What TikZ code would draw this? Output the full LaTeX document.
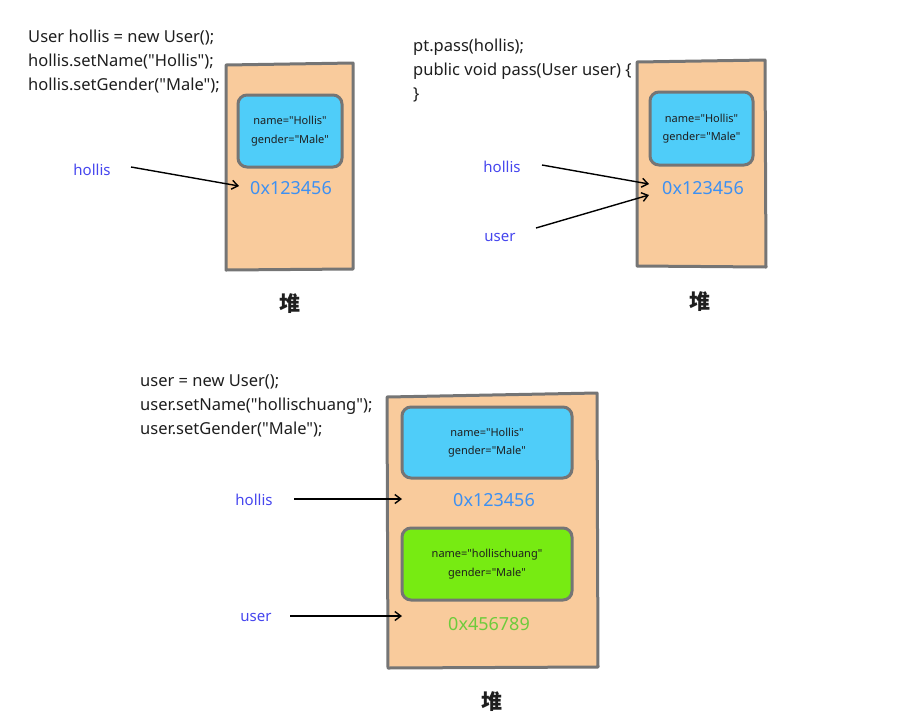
\documentclass[tikz,border=0pt]{standalone}
\usepackage{fontspec}
% TeX ligatures off so that " stays a straight double quote
\setmainfont{Noto Sans}[Ligatures=TeXOff]
\newfontfamily\cjk{Noto Sans CJK SC}
\usetikzlibrary{arrows.meta}

\definecolor{heapfill}{HTML}{F9CB9C}
\definecolor{edgegray}{HTML}{757575}
\definecolor{objblue}{HTML}{4FCDF9}
\definecolor{objgreen}{HTML}{77EB12}
\definecolor{addrblue}{HTML}{3D90F2}
\definecolor{addrgreen}{HTML}{6ECB3C}
\definecolor{varblue}{HTML}{4646EE}
\definecolor{ink}{HTML}{1E1E1E}

\begin{document}
\begin{tikzpicture}[x=1pt,y=-1pt,
  heap/.style={fill=heapfill, draw=edgegray, line width=3pt, line join=round},
  obj/.style={draw=edgegray, line width=3pt, rounded corners=9pt, inner sep=0pt,
    text=ink, align=center, font=\fontsize{11}{18.5}\selectfont},
  code/.style={anchor=base west, inner sep=0pt, text=ink, font=\fontsize{16.5}{18}\selectfont},
  addr/.style={inner sep=0pt, font=\fontsize{18}{20}\selectfont},
  var/.style={inner sep=0pt, text=varblue, font=\fontsize{15}{17}\selectfont},
  ref/.style={-{Straight Barb[length=6pt,width=9pt]}, line width=1.4pt, draw=black},
  heaplabel/.style={inner sep=0pt, text=ink, font=\cjk\bfseries\fontsize{21}{24}\selectfont}
]
\useasboundingbox (0,0) rectangle (914,724);

% ---------- first state: hollis created ----------
\node[code] (c1a) at (28,42) {User hollis = new User();};
\node[code] (c1b) at (28,66) {hollis.setName("Hollis");};
\node[code] (c1c) at (28,90) {hollis.setGender("Male");};

\draw[heap] (226,65) -- (353,63) -- (353,269) -- (226,270) -- cycle;
\node[obj, fill=objblue, minimum width=104pt, minimum height=72pt] (o1) at (290,131)
  {name="Hollis"\\gender="Male"};
\node[addr, text=addrblue] (a1) at (291,188) {0x123456};
\node[var] (v1) at (92,170) {hollis};
\coordinate (v1s) at (131,167);
\coordinate (a1h) at (239,186);
\draw[ref] (v1s) -- (a1h);
\node[heaplabel] (h1) at (290,304) {堆};

% ---------- second state: reference passed to pass() ----------
\node[code] (c2a) at (413,51) {pt.pass(hollis);};
\node[code] (c2b) at (413,75) {public void pass(User user) \{};
\node[code] (c2c) at (413,99) {\}};

\draw[heap] (637,62) -- (765,60) -- (766,267) -- (637,266) -- cycle;
\node[obj, fill=objblue, minimum width=103pt, minimum height=73pt] (o2) at (701.5,128.5)
  {name="Hollis"\\gender="Male"};
\node[addr, text=addrblue] (a2) at (703,188) {0x123456};
\node[var] (v2) at (502,167) {hollis};
\node[var] (v3) at (500,237) {user};
\coordinate (v2s) at (542,165);
\coordinate (a2h) at (649,184);
\coordinate (v3s) at (536,228);
\coordinate (a2u) at (649,195);
\draw[ref] (v2s) -- (a2h);
\draw[ref] (v3s) -- (a2u);
\node[heaplabel] (h2) at (700,302) {堆};

% ---------- third state: user reassigned ----------
\node[code] (c3a) at (140,386) {user = new User();};
\node[code] (c3b) at (140,410) {user.setName("hollischuang");};
\node[code] (c3c) at (140,434) {user.setGender("Male");};

\draw[heap] (387,397) -- (597,393) -- (598,667) -- (388,668) -- cycle;
\node[obj, fill=objblue, minimum width=170pt, minimum height=71pt] (o3) at (487,442.5)
  {name="Hollis"\\gender="Male"};
\node[addr, text=addrblue] (a3) at (494,500) {0x123456};
\node[obj, fill=objgreen, minimum width=170pt, minimum height=72pt] (o4) at (487,564)
  {name="hollischuang"\\gender="Male"};
\node[addr, text=addrgreen] (a4) at (489,624) {0x456789};
\node[var] (v4) at (254,500) {hollis};
\node[var] (v5) at (256,617) {user};
\coordinate (v4s) at (294,499);
\coordinate (a3h) at (402,499);
\coordinate (v5s) at (290,616);
\coordinate (a4u) at (402,616);
\draw[ref] (v4s) -- (a3h);
\draw[ref] (v5s) -- (a4u);
\node[heaplabel] (h3) at (492,702) {堆};
\end{tikzpicture}
\end{document}
